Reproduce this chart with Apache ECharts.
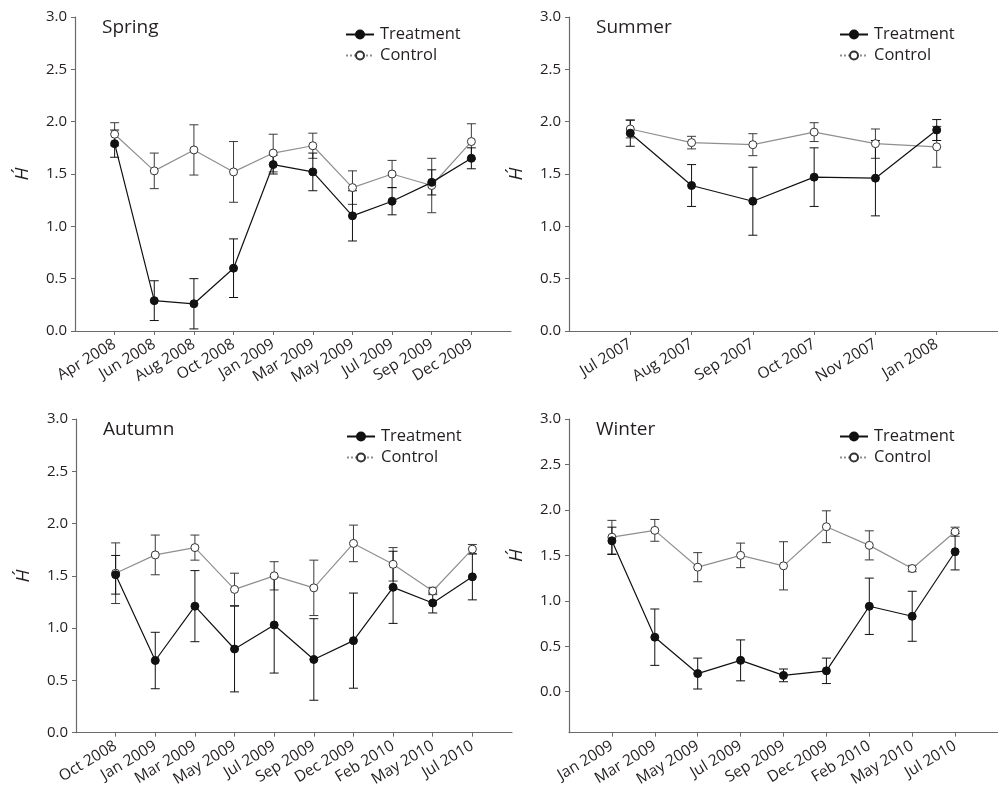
<!DOCTYPE html>
<html>
<head>
<meta charset="utf-8">
<script src="https://cdn.jsdelivr.net/npm/echarts@6/dist/echarts.min.js"></script>
<style>
html,body{margin:0;padding:0;background:#fff;}
#chart{width:998px;height:789px;}
</style>
</head>
<body>
<div id="chart"></div>
<script>
// ---------- data ----------
const panelTitles = ['Spring', 'Summer', 'Autumn', 'Winter'];
const yTickValues = [0, 0.5, 1.0, 1.5, 2.0, 2.5, 3.0];

const springCats = ['Apr 2008','Jun 2008','Aug 2008','Oct 2008','Jan 2009','Mar 2009','May 2009','Jul 2009','Sep 2009','Dec 2009'];
const springTreat = [1.79, 0.29, 0.26, 0.60, 1.59, 1.52, 1.10, 1.24, 1.42, 1.65];
const springTreatErr = [0.13, 0.19, 0.24, 0.28, 0.09, 0.18, 0.24, 0.13, 0.12, 0.10];
const springCtrl = [1.88, 1.53, 1.73, 1.52, 1.70, 1.77, 1.37, 1.50, 1.39, 1.81];
const springCtrlErr = [0.11, 0.17, 0.24, 0.29, 0.18, 0.12, 0.16, 0.13, 0.26, 0.17];

const summerCats = ['Jul 2007','Aug 2007','Sep 2007','Oct 2007','Nov 2007','Jan 2008'];
const summerTreat = [1.89, 1.39, 1.24, 1.47, 1.46, 1.92];
const summerTreatErr = [0.125, 0.20, 0.325, 0.28, 0.36, 0.10];
const summerCtrl = [1.93, 1.80, 1.78, 1.90, 1.79, 1.76];
const summerCtrlErr = [0.085, 0.06, 0.105, 0.09, 0.14, 0.195];

const autumnCats = ['Oct 2008','Jan 2009','Mar 2009','May 2009','Jul 2009','Sep 2009','Dec 2009','Feb 2010','May 2010','Jul 2010'];
const autumnTreat = [1.51, 0.69, 1.21, 0.80, 1.03, 0.70, 0.88, 1.39, 1.24, 1.49];
const autumnTreatErr = [0.185, 0.27, 0.34, 0.41, 0.46, 0.39, 0.455, 0.345, 0.095, 0.22];
const autumnCtrl = [1.525, 1.70, 1.77, 1.37, 1.50, 1.385, 1.81, 1.61, 1.355, 1.755];
const autumnCtrlErr = [0.29, 0.19, 0.12, 0.155, 0.135, 0.265, 0.175, 0.16, 0.035, 0.045];

const winterCats = ['Jan 2009','Mar 2009','May 2009','Jul 2009','Sep 2009','Dec 2009','Feb 2010','May 2010','Jul 2010'];
const winterTreat = [1.66, 0.60, 0.20, 0.345, 0.18, 0.23, 0.94, 0.83, 1.54];
const winterTreatErr = [0.15, 0.31, 0.17, 0.225, 0.07, 0.14, 0.31, 0.275, 0.20];
const winterCtrl = [1.70, 1.775, 1.37, 1.50, 1.385, 1.815, 1.61, 1.355, 1.76];
const winterCtrlErr = [0.185, 0.12, 0.16, 0.135, 0.265, 0.175, 0.16, 0.035, 0.05];

// ---------- layout / style ----------
const FONT = '"Open Sans", "Noto Sans", sans-serif';
const TXT = '#231f20';
const AXIS = '#6a6a6a';
const panels = [
  {cats: springCats, t: springTreat, te: springTreatErr, c: springCtrl, ce: springCtrlErr, yMin: 0,
   grid: {left: 75, top: 17, width: 436, height: 314}},
  {cats: summerCats, t: summerTreat, te: summerTreatErr, c: summerCtrl, ce: summerCtrlErr, yMin: 0,
   grid: {left: 569, top: 17, width: 436, height: 314}},
  {cats: autumnCats, t: autumnTreat, te: autumnTreatErr, c: autumnCtrl, ce: autumnCtrlErr, yMin: 0,
   grid: {left: 76, top: 419, width: 436, height: 314}},
  {cats: winterCats, t: winterTreat, te: winterTreatErr, c: winterCtrl, ce: winterCtrlErr, yMin: -0.45,
   grid: {left: 569, top: 419, width: 436, height: 314}}
];

function errRender(color) {
  return function (params, api) {
    const x = api.value(0), v = api.value(1), e = api.value(2);
    const hi = api.coord([x, v + e]);
    const lo = api.coord([x, v - e]);
    const w = 4.5;
    const style = {stroke: color, lineWidth: 1, fill: null};
    return {
      type: 'group',
      children: [
        {type: 'line', shape: {x1: hi[0], y1: hi[1], x2: lo[0], y2: lo[1]}, style: style},
        {type: 'line', shape: {x1: hi[0] - w, y1: hi[1], x2: hi[0] + w, y2: hi[1]}, style: style},
        {type: 'line', shape: {x1: lo[0] - w, y1: lo[1], x2: lo[0] + w, y2: lo[1]}, style: style}
      ]
    };
  };
}

const option = {
  backgroundColor: '#ffffff',
  animation: false,
  textStyle: {fontFamily: FONT},
  grid: [], xAxis: [], yAxis: [], series: [], legend: [], title: [], graphic: []
};

panels.forEach(function (p, i) {
  const g = p.grid;
  option.grid.push(Object.assign({containLabel: false}, g));
  const idx = p.cats.map(function (_, k) { return k + 1; });
  option.xAxis.push({
    type: 'value', gridIndex: i, min: 0, max: p.cats.length + 1,
    axisLine: {show: true, onZero: false, lineStyle: {color: AXIS, width: 1.2}},
    axisTick: {show: true, customValues: idx, length: 4, inside: false, lineStyle: {color: AXIS}},
    axisLabel: {
      customValues: idx, rotate: 31, margin: 12, fontSize: 15.5, color: TXT, fontFamily: FONT,
      formatter: function (v) { return p.cats[Math.round(v) - 1] || ''; }
    },
    splitLine: {show: false}
  });
  option.yAxis.push({
    type: 'value', gridIndex: i, min: p.yMin, max: 3,
    axisLine: {show: true, onZero: false, lineStyle: {color: AXIS, width: 1.2}},
    axisTick: {show: true, customValues: yTickValues, length: 4, lineStyle: {color: AXIS}},
    axisLabel: {
      customValues: yTickValues, margin: 8, fontSize: 15, color: TXT, fontFamily: FONT,
      formatter: function (v) { return v.toFixed(1); }
    },
    splitLine: {show: false}
  });
  const tData = p.t.map(function (v, k) { return [k + 1, v]; });
  const cData = p.c.map(function (v, k) { return [k + 1, v]; });
  const teData = p.t.map(function (v, k) { return [k + 1, v, p.te[k]]; });
  const ceData = p.c.map(function (v, k) { return [k + 1, v, p.ce[k]]; });
  option.series.push({
    type: 'custom', name: 'Control SE', xAxisIndex: i, yAxisIndex: i, z: 2,
    renderItem: errRender('#3a3a3a'), data: ceData, encode: {x: 0, y: 1}, silent: true
  });
  option.series.push({
    type: 'custom', name: 'Treatment SE', xAxisIndex: i, yAxisIndex: i, z: 2,
    renderItem: errRender('#111111'), data: teData, encode: {x: 0, y: 1}, silent: true
  });
  option.series.push({
    type: 'line', name: 'Control', xAxisIndex: i, yAxisIndex: i, z: 3,
    data: cData, symbol: 'circle', symbolSize: 8, showAllSymbol: true,
    lineStyle: {color: '#8f8f8f', width: 1.2},
    itemStyle: {color: '#ffffff', borderColor: '#333333', borderWidth: 1}
  });
  option.series.push({
    type: 'line', name: 'Treatment', xAxisIndex: i, yAxisIndex: i, z: 4,
    data: tData, symbol: 'circle', symbolSize: 8, showAllSymbol: true,
    lineStyle: {color: '#111111', width: 1.2},
    itemStyle: {color: '#111111', borderColor: '#111111', borderWidth: 1}
  });
  option.legend.push({
    orient: 'vertical', left: g.left + 270, top: g.top + 9,
    itemWidth: 28, itemHeight: 10, itemGap: 4, selectedMode: false,
    padding: 0,
    textStyle: {fontSize: 16.5, color: TXT, fontFamily: FONT, padding: [0, 0, 0, 1]},
    data: [
      {name: 'Treatment'},
      {name: 'Control', lineStyle: {type: 'dotted', color: '#8f8f8f'}}
    ]
  });
  option.title.push({
    text: panelTitles[i], left: g.left + 27, top: g.top + 1, padding: 0,
    textStyle: {fontSize: 19, fontWeight: 'normal', color: TXT, fontFamily: FONT}
  });
  const yMid = g.top + g.height * (3 - 1.5) / (3 - p.yMin);
  option.graphic.push({
    type: 'text', x: g.left - 52, y: yMid, rotation: Math.PI / 2,
    style: {text: 'H\u00B4', font: 'italic 19px ' + FONT, fill: TXT, align: 'center', verticalAlign: 'middle'}
  });
});

const chart = echarts.init(document.getElementById('chart'), null, {renderer: 'canvas'});
chart.setOption(option);
</script>
</body>
</html>
